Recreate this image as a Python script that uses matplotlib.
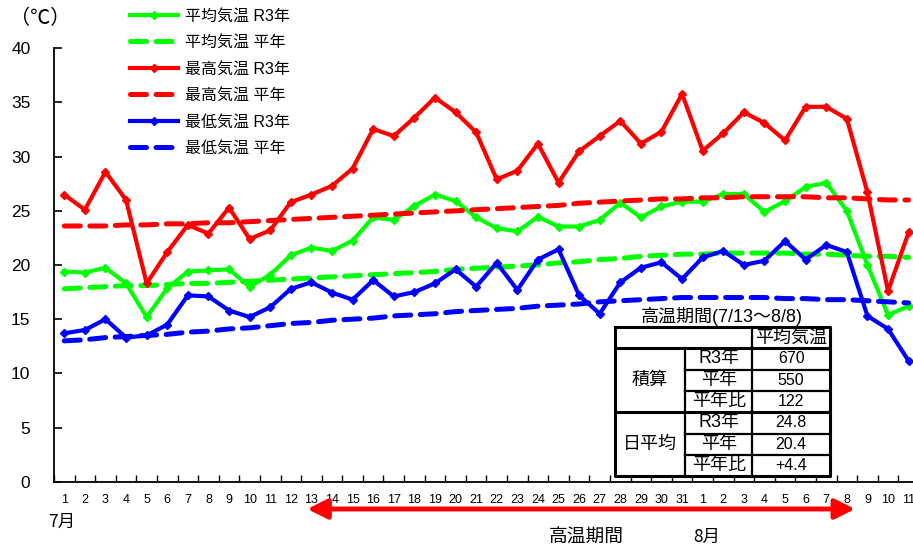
import matplotlib
matplotlib.use("Agg")
import matplotlib.pyplot as plt
import numpy as np

plt.rcParams['font.family'] = ['Liberation Sans', 'Noto Sans CJK JP', 'DejaVu Sans']

# Days: July 1-31, August 1-11
day_labels = [str(d) for d in range(1, 32)] + [str(d) for d in range(1, 12)]

mean_r3 = [19.4, 19.3, 19.75, 18.3, 15.2, 17.85, 19.4, 19.5, 19.6, 18.0,
           19.1, 20.9, 21.6, 21.3, 22.25, 24.4, 24.15, 25.45, 26.5, 25.9,
           24.4, 23.4, 23.1, 24.45, 23.55, 23.55, 24.15, 25.75, 24.4, 25.4,
           25.85,
           25.85, 26.55, 26.55, 24.9, 25.9, 27.2, 27.6, 25.0, 20.0, 15.4, 16.2]
mean_norm = [17.8, 17.9, 18.0, 18.1, 18.1, 18.2, 18.3, 18.3, 18.4, 18.5,
             18.6, 18.7, 18.8, 18.9, 19.0, 19.1, 19.2, 19.3, 19.4, 19.6,
             19.7, 19.8, 19.9, 20.0, 20.2, 20.3, 20.5, 20.6, 20.8, 20.9,
             21.0,
             21.0, 21.1, 21.1, 21.1, 21.1, 21.0, 21.0, 20.9, 20.8, 20.8, 20.7]
max_r3 = [26.5, 25.1, 28.6, 26.0, 18.3, 21.2, 23.7, 22.9, 25.3, 22.4,
          23.2, 25.8, 26.5, 27.3, 28.9, 32.55, 31.9, 33.6, 35.45, 34.1,
          32.25, 27.9, 28.7, 31.2, 27.6, 30.5, 31.9, 33.3, 31.2, 32.3,
          35.8,
          30.55, 32.15, 34.1, 33.1, 31.5, 34.6, 34.6, 33.5, 26.7, 17.6, 23.0]
max_norm = [23.6, 23.6, 23.6, 23.7, 23.7, 23.8, 23.8, 23.9, 23.9, 24.0,
            24.1, 24.2, 24.3, 24.4, 24.5, 24.6, 24.7, 24.8, 24.9, 25.0,
            25.1, 25.2, 25.3, 25.4, 25.5, 25.7, 25.8, 25.9, 26.0, 26.1,
            26.1,
            26.2, 26.2, 26.3, 26.3, 26.3, 26.3, 26.2, 26.2, 26.1, 26.0, 26.0]
min_r3 = [13.7, 14.0, 15.0, 13.3, 13.5, 14.5, 17.2, 17.1, 15.8, 15.2,
          16.1, 17.8, 18.4, 17.45, 16.8, 18.6, 17.1, 17.5, 18.3, 19.6,
          18.0, 20.2, 17.7, 20.5, 21.45, 17.2, 15.5, 18.4, 19.75, 20.25,
          18.7,
          20.7, 21.3, 20.0, 20.4, 22.2, 20.5, 21.85, 21.2, 15.3, 14.1, 11.15]
min_norm = [13.0, 13.1, 13.3, 13.4, 13.5, 13.6, 13.8, 13.9, 14.1, 14.2,
            14.4, 14.6, 14.7, 14.9, 15.0, 15.1, 15.3, 15.4, 15.5, 15.7,
            15.8, 15.9, 16.0, 16.2, 16.3, 16.4, 16.6, 16.7, 16.8, 16.9,
            17.0,
            17.0, 17.0, 17.0, 17.0, 16.9, 16.9, 16.8, 16.8, 16.7, 16.6, 16.5]

legend_labels = ['平均気温 R3年', '平均気温 平年', '最高気温 R3年',
                 '最高気温 平年', '最低気温 R3年', '最低気温 平年']

# Summary table for the hot period
table_title = '高温期間(7/13～8/8)'
table_header = '平均気温'
group_names = ['積算', '日平均']
row_names = ['R3年', '平年', '平年比']
table_values = [['670', '550', '122'], ['24.8', '20.4', '+4.4']]

period_start, period_end = 11.8, 38.4   # 7/13 .. 8/8 arrow span (index units)

W, H = 913, 548
fig = plt.figure(figsize=(W / 100, H / 100), dpi=100)

x0_px, x_step = 64.0, 20.6
left_px, bottom_px, top_px = 54.0, 481.7, 48.3
right_px = x0_px + x_step * 41.5
ax = fig.add_axes([left_px / W, 1 - bottom_px / H,
                   (right_px - left_px) / W, (bottom_px - top_px) / H])

x = np.arange(len(day_labels))
GREEN, RED, BLUE = '#00ff00', '#ff0000', '#0000ff'
dash = (0, (3.2, 1.9))
solid_kw = dict(lw=3.0, marker='D', ms=4.5, solid_joinstyle='round')
dash_kw = dict(lw=3.6, linestyle=dash, dash_capstyle='round')

h = []
h += ax.plot(x, mean_r3, color=GREEN, **solid_kw)
h += ax.plot(x, mean_norm, color=GREEN, **dash_kw)
h += ax.plot(x, max_r3, color=RED, **solid_kw)
h += ax.plot(x, max_norm, color=RED, **dash_kw)
h += ax.plot(x, min_r3, color=BLUE, **solid_kw)
h += ax.plot(x, min_norm, color=BLUE, **dash_kw)

ax.set_xlim(-0.5, 41.5)
ax.set_ylim(0, 40)
ax.set_yticks(range(0, 41, 5))
ax.tick_params(axis='y', direction='in', length=6, width=1.2, labelsize=12.5, pad=17)
ax.set_xticks(x)
ax.set_xticklabels(day_labels, fontfamily=['Liberation Sans Narrow', 'Liberation Sans'])
ax.set_xticks(np.arange(-0.5, 41.6, 1), minor=True)
ax.tick_params(axis='x', which='major', length=0, labelsize=9, pad=9)
ax.tick_params(axis='x', which='minor', direction='in', length=5, width=1.0)
for s in ['top', 'right']:
    ax.spines[s].set_visible(False)
for s in ['left', 'bottom']:
    ax.spines[s].set_linewidth(1.3)
ax.patch.set_visible(False)

leg = fig.legend(h, legend_labels, loc='upper left',
                 bbox_to_anchor=(124 / W, 1 - 2 / H), frameon=False,
                 fontsize=11.5, handlelength=3.0, handletextpad=0.4,
                 labelspacing=0.72, borderaxespad=0)

# Figure-level annotations in pixel coordinates
ov = fig.add_axes([0, 0, 1, 1])
ov.set_xlim(0, W)
ov.set_ylim(H, 0)
ov.axis('off')

cjk = ['Noto Sans CJK JP']
ov.text(40, 19, '（℃）', fontsize=14.5, ha='center', va='center', family=cjk)
ov.text(62, 522, '7月', fontsize=12.5, ha='center', va='center', family=cjk)
ov.text(586, 537, '高温期間', fontsize=13.5, ha='center', va='center', family=cjk)
ov.text(707, 537, '8月', fontsize=12.5, ha='center', va='center', family=cjk)

ax.annotate('', xy=(period_end, H - 509), xytext=(period_start, H - 509),
            xycoords=('data', 'figure pixels'), textcoords=('data', 'figure pixels'),
            arrowprops=dict(arrowstyle='<|-|>', color=RED, lw=3.5,
                            mutation_scale=30, shrinkA=0, shrinkB=0),
            annotation_clip=False)

# Table
tl, tc1, tc2, tr = 614.5, 685.0, 752.3, 830.0
row_y = [327.3, 348.3, 369.6, 390.8, 412.0, 433.5, 454.8, 476.0]
lab_font = dict(fontsize=13, ha='center', va='center',
                family=['Liberation Sans', 'Noto Sans CJK JP'])
num_font = dict(fontsize=11.5, ha='center', va='center', family=['Liberation Sans'])
white = plt.Rectangle((tl, row_y[0]), tr - tl, row_y[-1] - row_y[0],
                      facecolor='white', edgecolor='none', zorder=1)
ov.add_patch(white)
ov.text((tl + tr) / 2, 316, table_title, **lab_font)
lk = dict(color='black', zorder=3, solid_capstyle='projecting')
thick, thin = 2.2, 1.6
ov.plot([tl, tr, tr, tl, tl], [row_y[0], row_y[0], row_y[-1], row_y[-1], row_y[0]], lw=thick, **lk)
ov.plot([tl, tr], [row_y[1]] * 2, lw=thick, **lk)
ov.plot([tl, tr], [row_y[4]] * 2, lw=thick, **lk)
ov.plot([tc2, tc2], [row_y[0], row_y[-1]], lw=thin, **lk)
ov.plot([tc1, tc1], [row_y[1], row_y[-1]], lw=thin, **lk)
for r in (2, 3, 5, 6):
    ov.plot([tc1, tr], [row_y[r]] * 2, lw=thin, **lk)
ov.text((tc2 + tr) / 2, (row_y[0] + row_y[1]) / 2, table_header, **lab_font)
for g, (name, vals) in enumerate(zip(group_names, table_values)):
    base = 1 + 3 * g
    ov.text((tl + tc1) / 2, (row_y[base] + row_y[base + 3]) / 2, name, **lab_font)
    for i, (rn, v) in enumerate(zip(row_names, vals)):
        yc = (row_y[base + i] + row_y[base + i + 1]) / 2
        ov.text((tc1 + tc2) / 2, yc, rn, **lab_font)
        ov.text((tc2 + tr) / 2, yc, v, **num_font)

fig.savefig('out.png', dpi=100)
